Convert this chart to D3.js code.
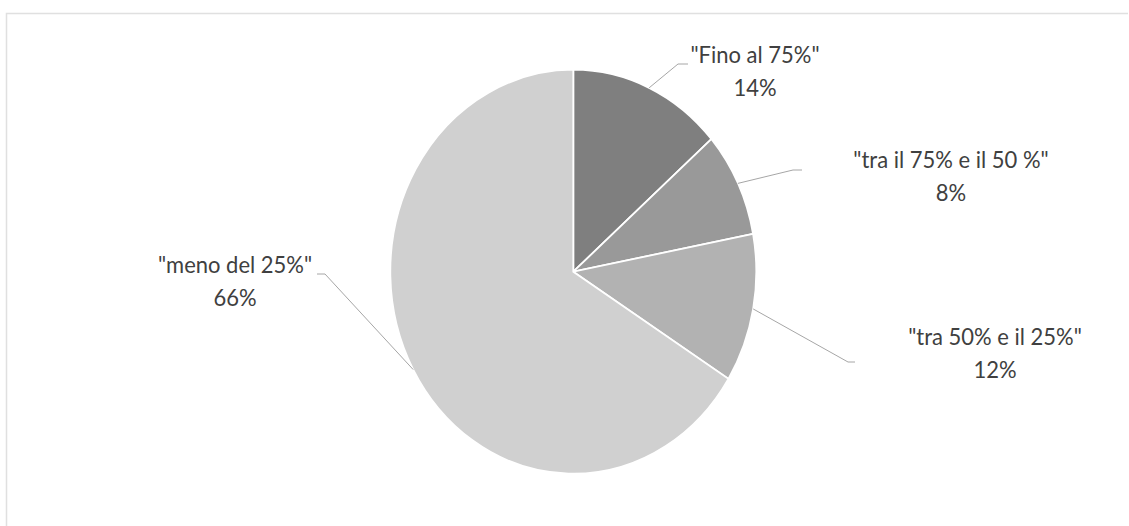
<!DOCTYPE html>
<html>
<head>
<meta charset="utf-8">
<script src="https://cdn.jsdelivr.net/npm/d3@7"></script>
<style>
  body { margin: 0; background: #fff; }
</style>
</head>
<body>
<div id="pie"></div>
<script>
var categories = ['"Fino al 75%"', '"tra il 75% e il 50 %"', '"tra 50% e il 25%"', '"meno del 25%"'];
var values = [13.6, 8.4, 11.9, 66.1];
var colors = ["#7f7f7f", "#999999", "#b2b2b2", "#d0d0d0"];

// label layout (text centre x, first baseline) and leader elbows
var labelPos = [[755, 63], [951, 168], [995, 345], [235, 273]];
var elbows = [[678, 64, 688], [793, 170, 802], [848, 362, 855], [325, 274, 317]];

function init() {
    var w = 1129, h = 526;
    var cx = 573.3, cy = 271.7;
    var r = 183, stretch = 1.104; // pie is drawn a bit taller than wide

    var svg = d3.select("#pie")
                .append("svg")
                .attr("width", w)
                .attr("height", h);

    // light chart frame
    svg.append("path")
       .attr("d", "M6.5," + h + "V13.5H" + (w - 1))
       .attr("fill", "none")
       .attr("stroke", "#e0e0e0")
       .attr("stroke-width", 1.5);

    var pie = d3.pie().sort(null).value(function(d) { return d; });
    var arcs = pie(values);

    var arc = d3.arc().innerRadius(0).outerRadius(r);
    var edge = d3.arc().innerRadius(r).outerRadius(r);

    var g = svg.append("g")
               .attr("transform", "translate(" + cx + "," + cy + ") scale(1," + stretch + ")");

    g.selectAll("path")
     .data(arcs)
     .enter()
     .append("path")
     .attr("d", arc)
     .attr("fill", function(d, i) { return colors[i]; })
     .attr("stroke", "#fff")
     .attr("stroke-width", 1.8)
     .attr("vector-effect", "non-scaling-stroke");

    // leader lines from slice edge to label
    svg.selectAll(".leader")
       .data(arcs)
       .enter()
       .append("polyline")
       .attr("class", "leader")
       .attr("fill", "none")
       .attr("stroke", "#a6a6a6")
       .attr("stroke-width", 1)
       .attr("points", function(d, i) {
           var c = edge.centroid(d);
           var px = cx + c[0], py = cy + c[1] * stretch;
           var e = elbows[i];
           return [px, py, e[0], e[1], e[2], e[1]].join(",");
       });

    var labels = svg.selectAll(".lbl")
                    .data(arcs)
                    .enter()
                    .append("text")
                    .attr("class", "lbl")
                    .attr("transform", function(d, i) {
                        return "translate(" + labelPos[i][0] + "," + labelPos[i][1] + ") scale(1,1.08)";
                    })
                    .attr("text-anchor", "middle")
                    .style("font-family", "Lato, 'Open Sans', sans-serif")
                    .style("font-size", "22px")
                    .style("fill", "#404040");

    labels.append("tspan")
          .attr("x", 0)
          .attr("y", 0)
          .text(function(d, i) { return categories[i]; });

    labels.append("tspan")
          .attr("x", 0)
          .attr("y", 31)
          .text(function(d) { return Math.round(d.value) + "%"; });
}

window.onload = init;
</script>
</body>
</html>
